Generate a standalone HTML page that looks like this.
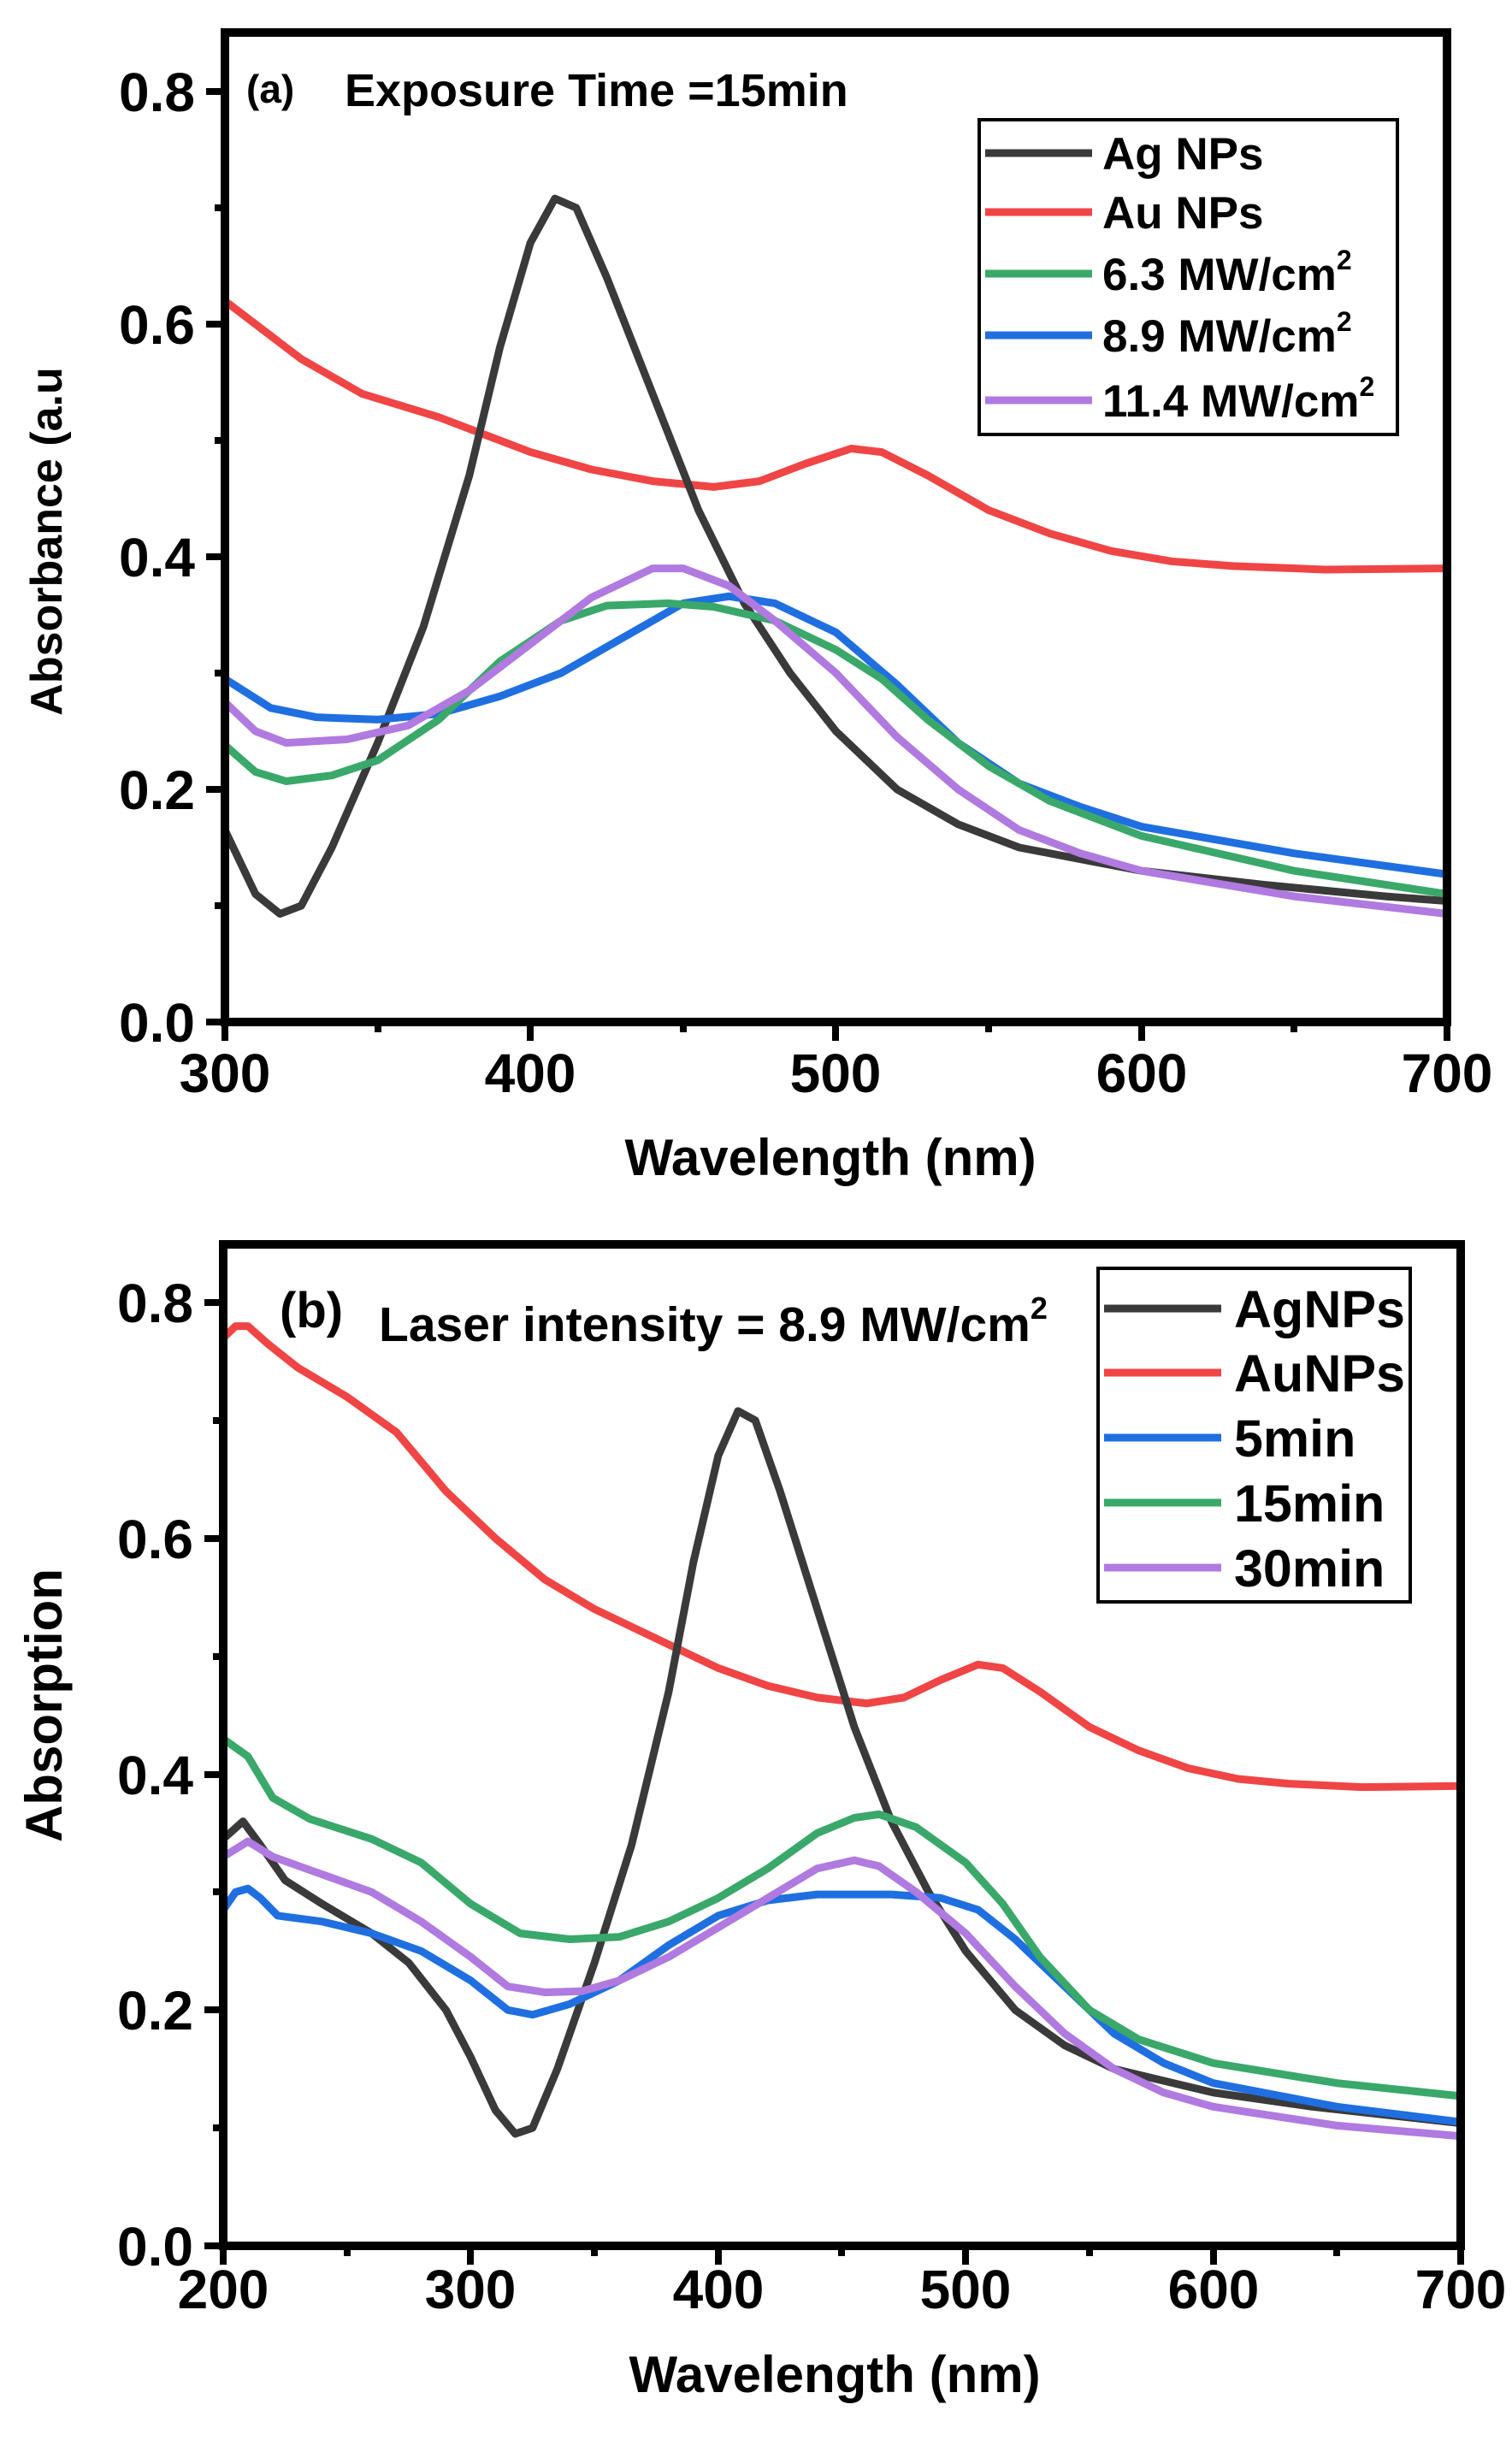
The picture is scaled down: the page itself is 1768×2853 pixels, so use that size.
<!DOCTYPE html>
<html><head><meta charset="utf-8"><style>
html,body{margin:0;padding:0;background:#fff}
svg{display:block}
text{font-family:"Liberation Sans",Arial,sans-serif;font-weight:bold;fill:#000}
.c{fill:none;stroke-width:9;stroke-linejoin:round;stroke-linecap:round;vector-effect:non-scaling-stroke}
</style></head><body>
<svg width="1768" height="2853" viewBox="0 0 1768 2853" xmlns="http://www.w3.org/2000/svg">
<!-- ===== Panel A ===== -->
<g transform="translate(263,1195) scale(3.5725,-1360) translate(-300,0)">
<path class="c" stroke="#f04545" d="M300 .62 L310 .6 L325 .57 L345 .54 L370 .52 L400 .49 L420 .475 L440 .465 L460 .46 L475 .465 L490 .48 L505 .493 L515 .49 L530 .47 L550 .44 L570 .42 L590 .405 L610 .396 L630 .392 L660 .389 L700 .39"/>
<path class="c" stroke="#3a3a3a" d="M300 .165 L310 .11 L318 .093 L325 .1 L335 .15 L350 .24 L365 .34 L380 .47 L390 .58 L400 .67 L408 .708 L415 .7 L425 .64 L440 .54 L455 .44 L470 .36 L485 .3 L500 .25 L520 .2 L540 .17 L560 .15 L580 .14 L600 .13 L640 .118 L680 .108 L700 .104"/>
<path class="c" stroke="#1f6fe0" d="M300 .295 L315 .27 L330 .262 L350 .26 L370 .265 L390 .28 L410 .3 L430 .33 L450 .36 L465 .366 L480 .36 L500 .335 L520 .29 L540 .24 L560 .205 L580 .185 L600 .168 L650 .145 L700 .127"/>
<path class="c" stroke="#3aa86a" d="M300 .238 L310 .215 L320 .207 L335 .212 L350 .225 L370 .26 L390 .31 L410 .345 L425 .358 L445 .36 L460 .357 L480 .345 L500 .32 L515 .295 L530 .26 L550 .22 L570 .19 L600 .16 L650 .13 L700 .11"/>
<path class="c" stroke="#b07ae0" d="M300 .275 L310 .25 L320 .24 L340 .243 L360 .255 L380 .285 L400 .325 L420 .365 L440 .39 L450 .39 L465 .375 L480 .345 L500 .3 L520 .245 L540 .2 L560 .165 L580 .145 L600 .13 L650 .108 L700 .093"/>
</g>
<rect x="263" y="38" width="1429" height="1157" fill="none" stroke="#000" stroke-width="10"/>
<g stroke="#000" stroke-width="8">
<path d="M263 1195v22M620 1195v22M977 1195v22M1335 1195v22M1692 1195v22"/>
<path d="M442 1195v12M799 1195v12M1156 1195v12M1513 1195v12"/>
<path d="M263 1195h-22M263 923h-22M263 651h-22M263 379h-22M263 107h-22"/>
<path d="M263 1059h-12M263 787h-12M263 515h-12M263 243h-12"/>
</g>
<g font-size="64" text-anchor="end">
<text x="228" y="1218">0.0</text><text x="228" y="946">0.2</text><text x="228" y="674">0.4</text><text x="228" y="402">0.6</text><text x="228" y="130">0.8</text>
</g>
<g font-size="64" text-anchor="middle">
<text x="263" y="1277">300</text><text x="620" y="1277">400</text><text x="977" y="1277">500</text><text x="1335" y="1277">600</text><text x="1692" y="1277">700</text>
</g>
<text x="971" y="1374" font-size="60" text-anchor="middle">Wavelength (nm)</text>
<text transform="translate(72,633) rotate(-90)" font-size="52" text-anchor="middle">Absorbance (a.u</text>
<text x="288" y="120" font-size="46">(a)</text>
<text x="403" y="124" font-size="54">Exposure Time =15min</text>
<rect x="1145" y="140" width="489" height="368" fill="none" stroke="#000" stroke-width="4"/>
<g stroke-width="9">
<path d="M1152 179h125" stroke="#3a3a3a"/><path d="M1152 248h125" stroke="#f04545"/><path d="M1152 320h125" stroke="#3aa86a"/><path d="M1152 392h125" stroke="#1f6fe0"/><path d="M1152 468h125" stroke="#b07ae0"/>
</g>
<g font-size="53">
<text x="1289" y="198">Ag NPs</text><text x="1289" y="267">Au NPs</text>
<text x="1289" y="339">6.3 MW/cm<tspan font-size="32" dy="-24">2</tspan></text>
<text x="1289" y="411">8.9 MW/cm<tspan font-size="32" dy="-24">2</tspan></text>
<text x="1289" y="487">11.4 MW/cm<tspan font-size="32" dy="-24">2</tspan></text>
</g>

<!-- ===== Panel B ===== -->
<g transform="translate(261,2626) scale(2.894,-1378.75) translate(-200,0)">
<path class="c" stroke="#f04545" d="M200 .77 L205 .78 L210 .78 L218 .765 L230 .745 L250 .72 L270 .69 L290 .64 L310 .6 L330 .565 L350 .54 L370 .52 L400 .49 L420 .475 L440 .465 L460 .46 L475 .465 L490 .48 L505 .493 L515 .49 L530 .47 L550 .44 L570 .42 L590 .405 L610 .396 L630 .392 L660 .389 L700 .39"/>
<path class="c" stroke="#3a3a3a" d="M200 .345 L208 .36 L215 .34 L225 .31 L240 .29 L260 .265 L275 .24 L290 .2 L300 .16 L310 .115 L318 .095 L325 .1 L335 .15 L350 .24 L365 .34 L380 .47 L390 .58 L400 .67 L408 .708 L415 .7 L425 .64 L440 .54 L455 .44 L470 .36 L485 .3 L500 .25 L520 .2 L540 .17 L560 .15 L580 .14 L600 .13 L640 .118 L700 .104"/>
<path class="c" stroke="#1f6fe0" d="M200 .285 L205 .3 L210 .303 L215 .295 L222 .28 L240 .275 L260 .265 L280 .25 L300 .225 L315 .2 L325 .196 L340 .205 L360 .225 L380 .255 L400 .28 L420 .293 L440 .298 L470 .298 L490 .295 L505 .285 L520 .26 L540 .22 L560 .18 L580 .155 L600 .138 L650 .118 L700 .105"/>
<path class="c" stroke="#3aa86a" d="M200 .43 L210 .415 L220 .38 L235 .362 L260 .345 L280 .325 L300 .29 L320 .265 L340 .26 L360 .262 L380 .275 L400 .295 L420 .32 L440 .35 L455 .363 L465 .366 L480 .355 L500 .325 L515 .29 L530 .245 L550 .2 L570 .175 L600 .155 L650 .138 L700 .127"/>
<path class="c" stroke="#b07ae0" d="M200 .33 L210 .343 L220 .33 L240 .315 L260 .3 L280 .275 L300 .245 L315 .22 L330 .215 L345 .216 L360 .225 L380 .245 L400 .27 L420 .295 L440 .32 L455 .327 L465 .322 L480 .3 L500 .265 L520 .22 L540 .18 L560 .15 L580 .13 L600 .118 L650 .102 L700 .093"/>
</g>
<rect x="261" y="1455" width="1447" height="1171" fill="none" stroke="#000" stroke-width="10"/>
<g stroke="#000" stroke-width="8">
<path d="M261 2626v22M550 2626v22M840 2626v22M1129 2626v22M1419 2626v22M1708 2626v22"/>
<path d="M406 2626v12M695 2626v12M984 2626v12M1274 2626v12M1563 2626v12"/>
<path d="M261 2626h-22M261 2350h-22M261 2075h-22M261 1799h-22M261 1523h-22"/>
<path d="M261 2488h-12M261 2212h-12M261 1937h-12M261 1661h-12"/>
</g>
<g font-size="64" text-anchor="end">
<text x="226" y="2649">0.0</text><text x="226" y="2373">0.2</text><text x="226" y="2098">0.4</text><text x="226" y="1822">0.6</text><text x="226" y="1546">0.8</text>
</g>
<g font-size="64" text-anchor="middle">
<text x="261" y="2699">200</text><text x="550" y="2699">300</text><text x="840" y="2699">400</text><text x="1129" y="2699">500</text><text x="1419" y="2699">600</text><text x="1708" y="2699">700</text>
</g>
<text x="976" y="2797" font-size="60" text-anchor="middle">Wavelength (nm)</text>
<text transform="translate(72,1994) rotate(-90)" font-size="60" text-anchor="middle">Absorption</text>
<text x="327" y="1552" font-size="58">(b)</text>
<text x="443" y="1568" font-size="57">Laser intensity = 8.9 MW/cm<tspan font-size="36" dy="-26">2</tspan></text>
<rect x="1284" y="1483" width="365" height="390" fill="none" stroke="#000" stroke-width="4"/>
<g stroke-width="9">
<path d="M1291 1530h137" stroke="#3a3a3a"/><path d="M1291 1605h137" stroke="#f04545"/><path d="M1291 1681h137" stroke="#1f6fe0"/><path d="M1291 1757h137" stroke="#3aa86a"/><path d="M1291 1833h137" stroke="#b07ae0"/>
</g>
<g font-size="61">
<text x="1443" y="1552">AgNPs</text><text x="1443" y="1627">AuNPs</text><text x="1443" y="1703">5min</text><text x="1443" y="1779">15min</text><text x="1443" y="1855">30min</text>
</g>
</svg>
</body></html>
